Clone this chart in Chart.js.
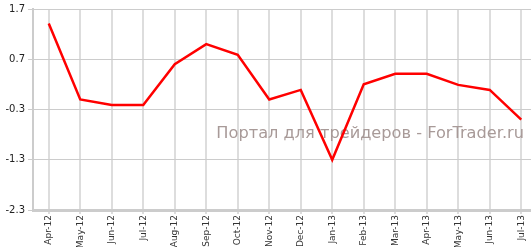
<!DOCTYPE html>
<html>
<head>
<meta charset="utf-8">
<script src="https://cdn.jsdelivr.net/npm/chart.js@4/dist/chart.umd.min.js"></script>
<style>
  html, body { margin: 0; padding: 0; background: #fff; }
  #wrap { width: 531px; height: 247px; }
</style>
</head>
<body>
<div id="wrap"><canvas id="chart"></canvas></div>
<script>
const months = ['Apr-12', 'May-12', 'Jun-12', 'Jul-12', 'Aug-12', 'Sep-12', 'Oct-12', 'Nov-12',
	'Dec-12', 'Jan-13', 'Feb-13', 'Mar-13', 'Apr-13', 'May-13', 'Jun-13', 'Jul-13'];
const values = [1.41, -0.10, -0.21, -0.21, 0.60, 1.00, 0.79, -0.10,
	0.09, -1.30, 0.20, 0.41, 0.41, 0.19, 0.09, -0.50];
const yTicks = [-2.3, -1.3, -0.3, 0.7, 1.7];
const watermark = 'Портал для трейдеров - ForTrader.ru';

// watermark sits under the line
const watermarkPlugin = {
	id: 'watermark',
	beforeDatasetsDraw(chart) {
		const ctx = chart.ctx;
		ctx.save();
		ctx.font = '16.2px "DejaVu Sans"';
		ctx.fillStyle = '#a89a98';
		ctx.textAlign = 'right';
		ctx.textBaseline = 'middle';
		ctx.fillText(watermark, 524, 134);
		ctx.restore();
	}
};

new Chart(document.getElementById('chart'), {
	type: 'line',
	data: {
		datasets: [{
			data: values.map((v, i) => ({x: i, y: v})),
			borderColor: '#ff0000',
			borderWidth: 2.5,
			pointRadius: 0,
			tension: 0,
		}]
	},
	plugins: [watermarkPlugin],
	options: {
		responsive: true,
		maintainAspectRatio: false,
		animation: false,
		layout: {padding: {top: 8, right: 0, left: 0, bottom: 0}},
		plugins: {legend: {display: false}, tooltip: {enabled: false}},
		scales: {
			x: {
				type: 'linear',
				min: -0.5,
				max: 15.31,
				afterBuildTicks: (axis) => { axis.ticks = months.map((m, i) => ({value: i})); },
				afterFit: (axis) => {
					axis.height = 37;
					axis.paddingLeft = 0;
					axis.paddingRight = 0;
				},
				ticks: {
					autoSkip: false,
					minRotation: 90,
					maxRotation: 90,
					padding: 1,
					color: '#333',
					font: {family: 'DejaVu Sans', size: 9},
					callback: (v) => months[v],
				},
				grid: {color: '#dddddd', lineWidth: 2, tickLength: 4},
				border: {color: '#cccccc', width: 3},
			},
			y: {
				min: -2.3,
				max: 1.7,
				afterBuildTicks: (axis) => { axis.ticks = yTicks.map(v => ({value: v})); },
				afterFit: (axis) => { axis.width = 33; },
				ticks: {
					color: '#222',
					font: {family: 'DejaVu Sans', size: 10},
					padding: 3,
					callback: (v) => v.toFixed(1),
				},
				grid: {color: '#cccccc', lineWidth: 1, tickLength: 5},
				border: {color: '#cccccc', width: 2},
			},
		},
	},
});
</script>
</body>
</html>
